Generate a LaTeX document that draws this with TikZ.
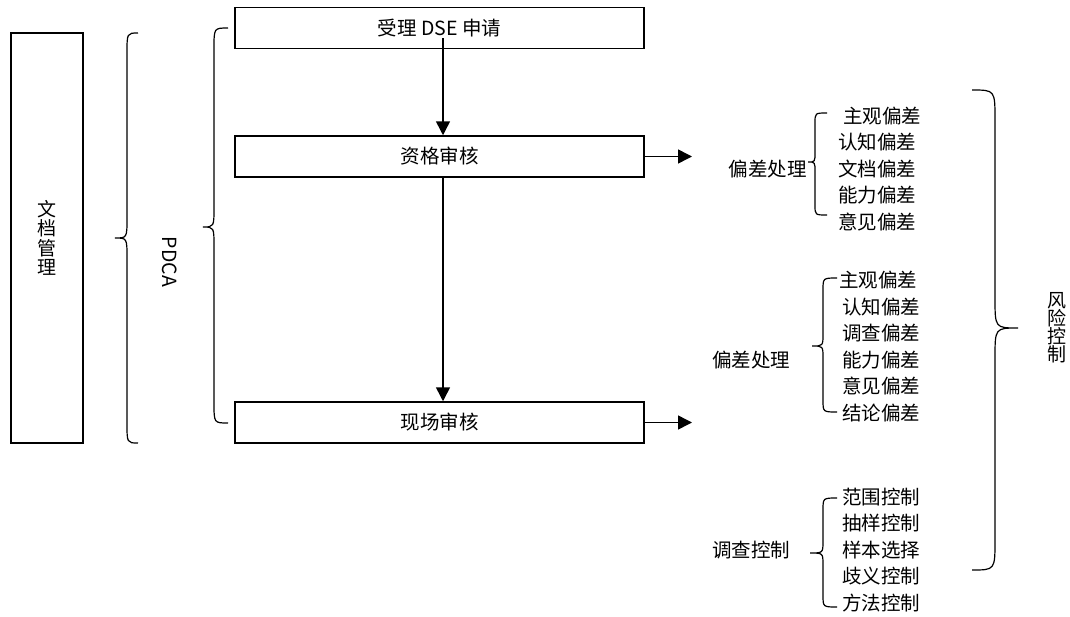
\documentclass[tikz,border=0pt]{standalone}
\usepackage{fontspec}
\setmainfont{Noto Sans CJK SC}
\usetikzlibrary{arrows.meta}
\begin{document}
\begin{tikzpicture}[x=1pt,y=-1pt,
  box/.style={draw, line width=1.5pt, minimum width=409pt, minimum height=41pt, inner sep=0pt, font=\fontsize{19.5}{22}\selectfont},
  txt/.style={inner sep=0pt, font=\fontsize{19.5}{22}\selectfont},
  list/.style={inner sep=0pt, anchor=west, align=left, font=\fontsize{19.5}{26.5}\selectfont},
  vert/.style={inner sep=0pt, align=center, font=\fontsize{19}{19.5}\selectfont},
  arr/.style={line width=1.5pt, -{Triangle[length=14pt,width=14pt]}},
  brc/.style={line width=1.2pt},
]
\useasboundingbox (0,0) rectangle (1070,616);

% left box
\node[draw, line width=1.5pt, minimum width=72pt, minimum height=410pt, vert] (doc) at (47,238) {文\\档\\管\\理};

% PDCA brace and label
\draw[brc] (138,33) .. controls (127,33) .. (127,53) -- (127,218) .. controls (127,238) .. (115,238)
           .. controls (127,238) .. (127,258) -- (127,423) .. controls (127,443) .. (138,443);
\node[txt, rotate=-90] (pdca) at (170,262) {PDCA};

% second brace
\draw[brc] (228,28) .. controls (214,28) .. (214,48) -- (214,207) .. controls (214,227) .. (203,227)
           .. controls (214,227) .. (214,247) -- (214,403) .. controls (214,423) .. (228,423);

% process boxes
\node[box] (b1) at (439.5,28) {受理 DSE 申请};
\node[box] (b2) at (439.5,156.5) {资格审核};
\node[box] (b3) at (439.5,422.5) {现场审核};

\draw[arr] ([xshift=3.5pt,yshift=11pt]b1.south) -- ([xshift=3.5pt]b2.north);
\draw[arr] ([xshift=3.5pt]b2.south) -- ([xshift=3.5pt]b3.north);

\coordinate (e2) at (692,156.5);
\coordinate (e3) at (692,422.5);
\draw[arr] (b2.east) -- (e2);
\draw[arr] (b3.east) -- (e3);

% group 1
\node[txt] (g1) at (767.5,169) {偏差处理};
\draw[brc] (827,113) .. controls (815,113) .. (815,123) -- (815,152) .. controls (815,162) .. (808,162)
           .. controls (815,162) .. (815,172) -- (815,205) .. controls (815,215) .. (827,215);
\node[list] (l1) at (838,169) {\hspace{5pt}主观偏差\\认知偏差\\文档偏差\\能力偏差\\意见偏差};

% group 2
\node[txt] (g2) at (751,360) {偏差处理};
\draw[brc] (837,278) .. controls (823,278) .. (823,290) -- (823,334) .. controls (823,346) .. (812,346)
           .. controls (823,346) .. (823,358) -- (823,400) .. controls (823,412) .. (837,412);
\node[list] (l2) at (839,346.5) {主观偏差\\\hspace{3pt}认知偏差\\\hspace{3pt}调查偏差\\\hspace{3pt}能力偏差\\\hspace{3pt}意见偏差\\\hspace{3pt}结论偏差};

% group 3
\node[txt] (g3) at (751,550) {调查控制};
\draw[brc] (837,498) .. controls (823,498) .. (823,510) -- (823,541) .. controls (823,553) .. (810,553)
           .. controls (823,553) .. (823,565) -- (823,595) .. controls (823,607) .. (837,607);
\node[list] (l3) at (842,550) {范围控制\\抽样控制\\样本选择\\歧义控制\\方法控制};

% big right brace
\draw[brc] (972,90) .. controls (995,90) .. (995,120) -- (995,298) .. controls (995,328) .. (1018,328)
           .. controls (995,328) .. (995,358) -- (995,540) .. controls (995,570) .. (972,570);
\node[inner sep=0pt, align=center, font=\fontsize{19}{18}\selectfont] (risk) at (1057,328) {风\\险\\控\\制};
\end{tikzpicture}
\end{document}
